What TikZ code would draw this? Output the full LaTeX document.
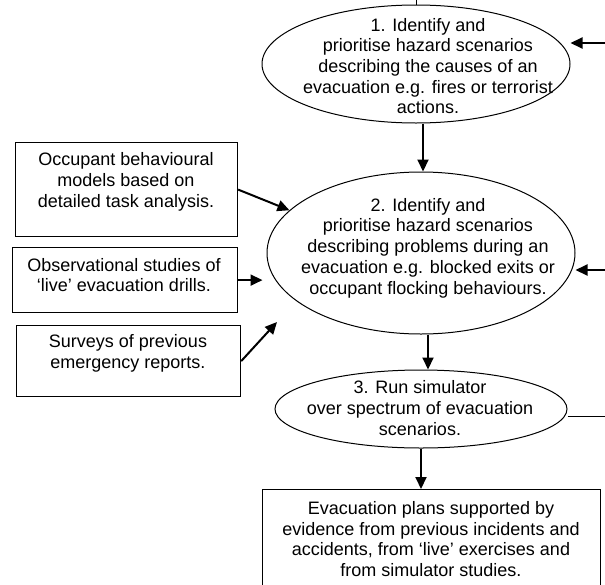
\documentclass[tikz,border=0pt]{standalone}
\usepackage{fontspec}
\setmainfont{Liberation Sans}
\usetikzlibrary{shapes.geometric,arrows.meta}

\begin{document}
\begin{tikzpicture}[x=1pt,y=-1pt,
  txt/.style={align=center,inner sep=0pt,font=\fontsize{18}{20.7}\selectfont},
  oval/.style={draw,ellipse,line width=1pt,inner sep=0pt},
  box/.style={draw,rectangle,line width=1.2pt,inner sep=0pt,anchor=north west},
  arr/.style={line width=2pt,-{Triangle[length=12pt,width=11pt]}}]
\useasboundingbox (0,0) rectangle (605,584);
% Hazard scenarios and simulator
\node (e1) [oval,minimum width=308pt,minimum height=118pt] at (416,64) {};
\node (e1 text) [txt] at (428,66) {1. Identify and\\prioritise hazard scenarios\\describing the causes of an\\evacuation e.g. fires or terrorist\\actions.};
\node (e2) [oval,minimum width=308pt,minimum height=162pt] at (421,253) {};
\node (e2 text) [txt] at (428,248) {2. Identify and\\prioritise hazard scenarios\\describing problems during an\\evacuation e.g. blocked exits or\\occupant flocking behaviours.};
\node (e3) [oval,minimum width=292pt,minimum height=78pt] at (421,409) {};
\node (e3 text) [txt] at (420,408) {3. Run simulator\\over spectrum of evacuation\\scenarios.};
% Data sources
\node (occ) [box,minimum width=222pt,minimum height=94pt] at (15,142) {};
\node (occ text) [txt] at (126,182) {Occupant behavioural\\models based on\\detailed task analysis.};
\node (obs) [box,minimum width=225pt,minimum height=65pt] at (12,247) {};
\node (obs text) [txt] at (124,275) {Observational studies of\\‘live’ evacuation drills.};
\node (sur) [box,minimum width=224pt,minimum height=71pt] at (16,325) {};
\node (sur text) [txt] at (128,353) {Surveys of previous\\emergency reports.};
% Evacuation plans
\node (plan) [box,minimum width=338pt,minimum height=110pt] at (262,489) {};
\node (plan text) [txt] at (431,539) {Evacuation plans supported by\\evidence from previous incidents and\\accidents, from ‘live’ exercises and\\from simulator studies.};
% Loose ends at the border
\coordinate (top in) at (416,0);
\coordinate (in1) at (605,43);
\coordinate (in2) at (605,270);
\coordinate (out3) at (605,416);
\coordinate (sur tip) at (277,322);
\draw[line width=1pt] (top in) -- (e1.north);
\draw[arr] (in1) -- (e1.east |- in1);
\draw[arr] (in2) -- (e2.east |- in2);
\draw[line width=1pt] (e3.east |- out3) -- (out3);
% Main flow
\draw[arr] ([xshift=2pt]e2.north |- e1.south) -- ([xshift=2pt]e2.north);
\draw[arr] ([xshift=7pt]e2.south) -- ([xshift=7pt]e3.north);
\draw[arr] (e3.south) -- (e3.south |- plan.north);
% Inputs to step 2
\draw[arr] (occ.east) -- (e2.162);
\draw[arr,shorten >=4pt] (obs.east) -- (obs.east -| e2.west);
\draw[arr] (sur.east) -- (sur tip);
\end{tikzpicture}
\end{document}
